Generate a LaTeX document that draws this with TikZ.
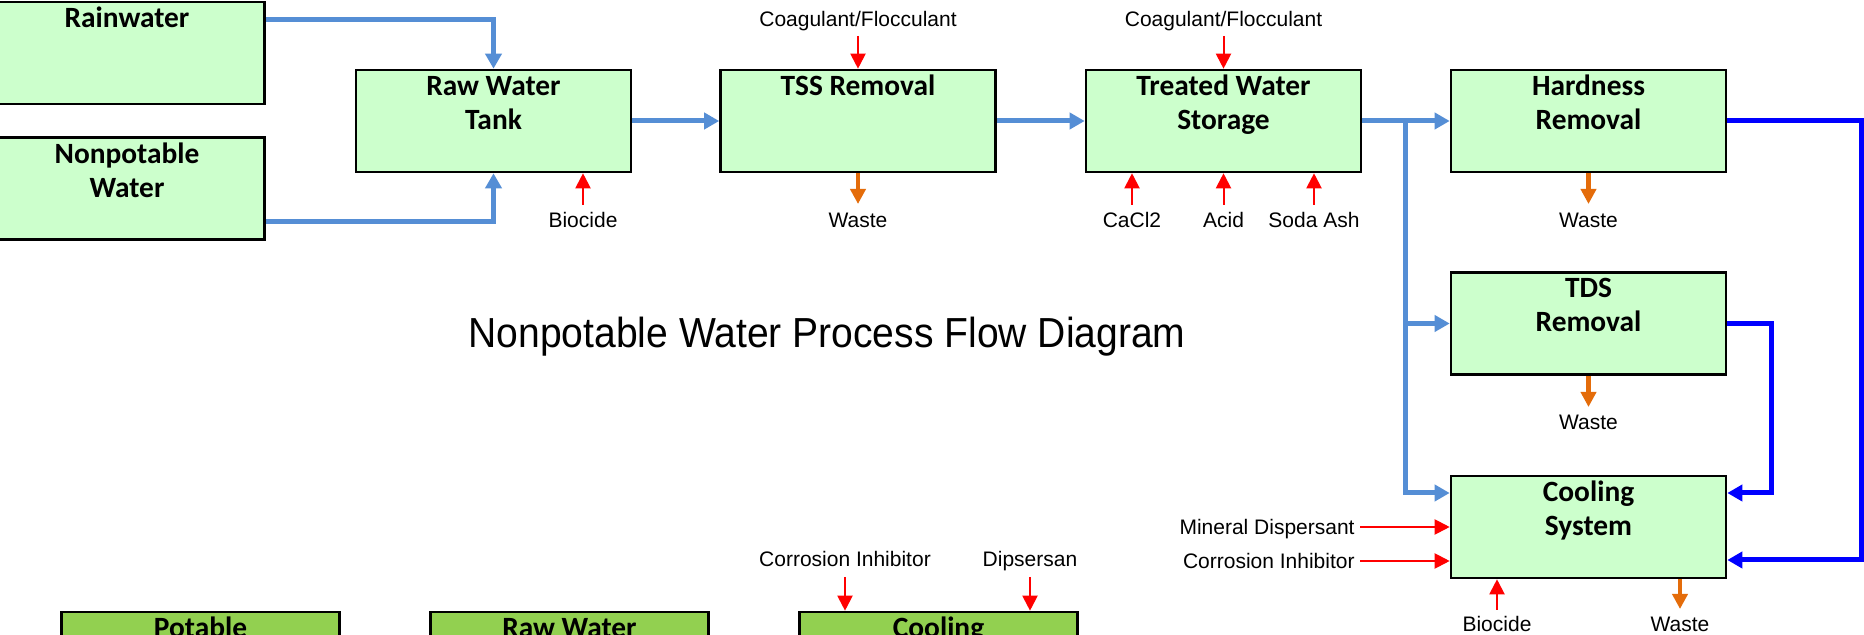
\documentclass[tikz,border=0pt]{standalone}
\usepackage{graphicx}
\usepackage{fontspec}
\setmainfont{Liberation Sans}
\newfontfamily\carlito{Carlito}
\usetikzlibrary{arrows.meta}
\definecolor{boxgreen}{RGB}{204,255,204}
\definecolor{darkgreen}{RGB}{146,208,80}
\definecolor{lblue}{RGB}{85,142,213}
\definecolor{dblue}{RGB}{0,0,255}
\definecolor{wred}{RGB}{255,0,0}
\definecolor{worange}{RGB}{228,108,10}
\newcommand\firststrut{\rule{0pt}{10pt}}
\begin{document}
\begin{tikzpicture}[x=0.5pt,y=-0.5pt,
  box/.style={draw=black, line width=1.3pt, fill=boxgreen, minimum width=137.5pt, minimum height=51pt, inner sep=0pt},
  box2/.style={box, fill=darkgreen, minimum width=139pt},
  boxtext/.style={anchor=north, inner sep=0pt, align=center, font=\carlito\bfseries\fontsize{14.7}{17}\selectfont},
  lbl/.style={inner sep=0pt, anchor=base, font=\fontsize{10.5}{12}\selectfont},
  flow/.style={draw=lblue, line width=2.5pt, -{Triangle[length=7.5pt,width=8pt]}},
  ret/.style={draw=dblue, line width=2.5pt, -{Triangle[length=7.5pt,width=8pt]}},
  chem/.style={draw=wred, line width=1pt, -{Triangle[length=7.5pt,width=7.5pt]}},
  waste/.style={draw=worange, line width=2.2pt, -{Triangle[length=7.5pt,width=7.5pt]}},
]
\useasboundingbox (0,0) rectangle (1864,635);
\clip (0,0) rectangle (1864,635);
\fill[white] (0,0) rectangle (1864,635);

% process boxes
\node[box] (rain) at (127,53) {};
\node[box] (nonpot) at (127,188.5) {};
\node[box] (raw) at (493.5,121) {};
\node[box] (tss) at (858,121) {};
\node[box] (treat) at (1223.5,121) {};
\node[box] (hard) at (1588.5,121) {};
\node[box] (tds) at (1588.5,323.5) {};
\node[box] (cool) at (1588.5,527) {};
\node[box2] (pot) at (200.5,663) {};
\node[box2] (rawb) at (569.5,663) {};
\node[box2] (coolb) at (938.5,663) {};

% box texts
\node[boxtext] (rain-t) at ([yshift=-3pt]rain.north) {\firststrut Rainwater};
\node[boxtext] (nonpot-t) at ([yshift=-3pt]nonpot.north) {\firststrut Nonpotable\\Water};
\node[boxtext] (raw-t) at ([yshift=-3pt]raw.north) {\firststrut Raw Water\\Tank};
\node[boxtext] (tss-t) at ([yshift=-3pt]tss.north) {\firststrut TSS Removal};
\node[boxtext] (treat-t) at ([yshift=-3pt]treat.north) {\firststrut Treated Water\\Storage};
\node[boxtext] (hard-t) at ([yshift=-3pt]hard.north) {\firststrut Hardness\\Removal};
\node[boxtext] (tds-t) at ([yshift=-3pt]tds.north) {\firststrut TDS\\Removal};
\node[boxtext] (cool-t) at ([yshift=-3pt]cool.north) {\firststrut Cooling\\System};
\node[boxtext] (pot-t) at ([yshift=-3pt]pot.north) {\firststrut Potable};
\node[boxtext] (rawb-t) at ([yshift=-3pt]rawb.north) {\firststrut Raw Water};
\node[boxtext] (coolb-t) at ([yshift=-3pt]coolb.north) {\firststrut Cooling};

% title
\node[inner sep=0pt, anchor=base, font=\fontsize{21}{25}\selectfont] (title) at (827,348) {\scalebox{0.93}[1]{Nonpotable Water Process Flow Diagram}};

% main flow (light blue)
\draw[flow] ([yshift=16.5pt]rain.east) -| (raw.north);
\draw[flow] ([yshift=-16.75pt]nonpot.east) -| (raw.south);
\draw[flow] (raw.east) -- (tss.west);
\draw[flow] (tss.east) -- (treat.west);
\draw[flow] (treat.east) -- (hard.west);
\coordinate (br) at (1405,121);
\draw[flow] (br) |- ([yshift=17pt]cool.west);
\draw[flow] (br |- tds.west) -- (tds.west);

% return lines (dark blue)
\coordinate (hr) at (1861,121);
\draw[ret] (hard.east) -- (hr) |- ([yshift=-16.5pt]cool.east);
\coordinate (tr) at (1771,323.5);
\draw[ret] (tds.east) -- (tr) |- ([yshift=17pt]cool.east);

% chemical labels and arrows
\node[lbl] (coag1) at (858,26.5) {Coagulant/Flocculant};
\coordinate (coag1a) at (858,36);
\draw[chem] (coag1a) -- (tss.north);
\node[lbl] (coag2) at (1223.5,26.5) {Coagulant/Flocculant};
\coordinate (coag2a) at (1223.5,36);
\draw[chem] (coag2a) -- (treat.north);

\node[lbl] (bio1) at (583,227.5) {Biocide};
\coordinate (bio1a) at (583,205);
\draw[chem] (bio1a) -- (bio1a |- raw.south);

\node[lbl] (cacl) at (1132,227.5) {CaCl2};
\coordinate (cacla) at (1132,205);
\draw[chem] (cacla) -- (cacla |- treat.south);
\node[lbl] (acid) at (1223.5,227.5) {Acid};
\coordinate (acida) at (1223.5,205);
\draw[chem] (acida) -- (treat.south);
\node[lbl] (soda) at (1314,227.5) {Soda Ash};
\coordinate (sodaa) at (1314,205);
\draw[chem] (sodaa) -- (sodaa |- treat.south);

\node[lbl, anchor=base east] (mineral) at (1355,534.5) {Mineral Dispersant};
\coordinate (minerala) at (1360,527);
\draw[chem] (minerala) -- (minerala -| cool.west);
\node[lbl, anchor=base east] (corr1) at (1355,568.5) {Corrosion Inhibitor};
\coordinate (corr1a) at (1360,561);
\draw[chem] (corr1a) -- (corr1a -| cool.west);

\node[lbl] (bio2) at (1497,631.5) {Biocide};
\coordinate (bio2a) at (1497,610);
\draw[chem] (bio2a) -- (bio2a |- cool.south);

\node[lbl] (corr2) at (845,566.5) {Corrosion Inhibitor};
\coordinate (corr2a) at (845,577);
\draw[chem] (corr2a) -- (corr2a |- coolb.north);
\node[lbl] (dips) at (1030,566.5) {Dipsersan};
\coordinate (dipsa) at (1030,577);
\draw[chem] (dipsa) -- (dipsa |- coolb.north);

% waste
\node[lbl] (waste1) at (858,227.5) {Waste};
\coordinate (waste1a) at (858,204);
\draw[waste] (tss.south) -- (waste1a);
\node[lbl] (waste2) at (1588.5,227.5) {Waste};
\coordinate (waste2a) at (1588.5,204);
\draw[waste] (hard.south) -- (waste2a);
\node[lbl] (waste3) at (1588.5,429.5) {Waste};
\coordinate (waste3a) at (1588.5,407);
\draw[waste] (tds.south) -- (waste3a);
\node[lbl] (waste4) at (1680,631.5) {Waste};
\coordinate (waste4a) at (1680,609);
\draw[waste] (waste4a |- cool.south) -- (waste4a);
\end{tikzpicture}
\end{document}
